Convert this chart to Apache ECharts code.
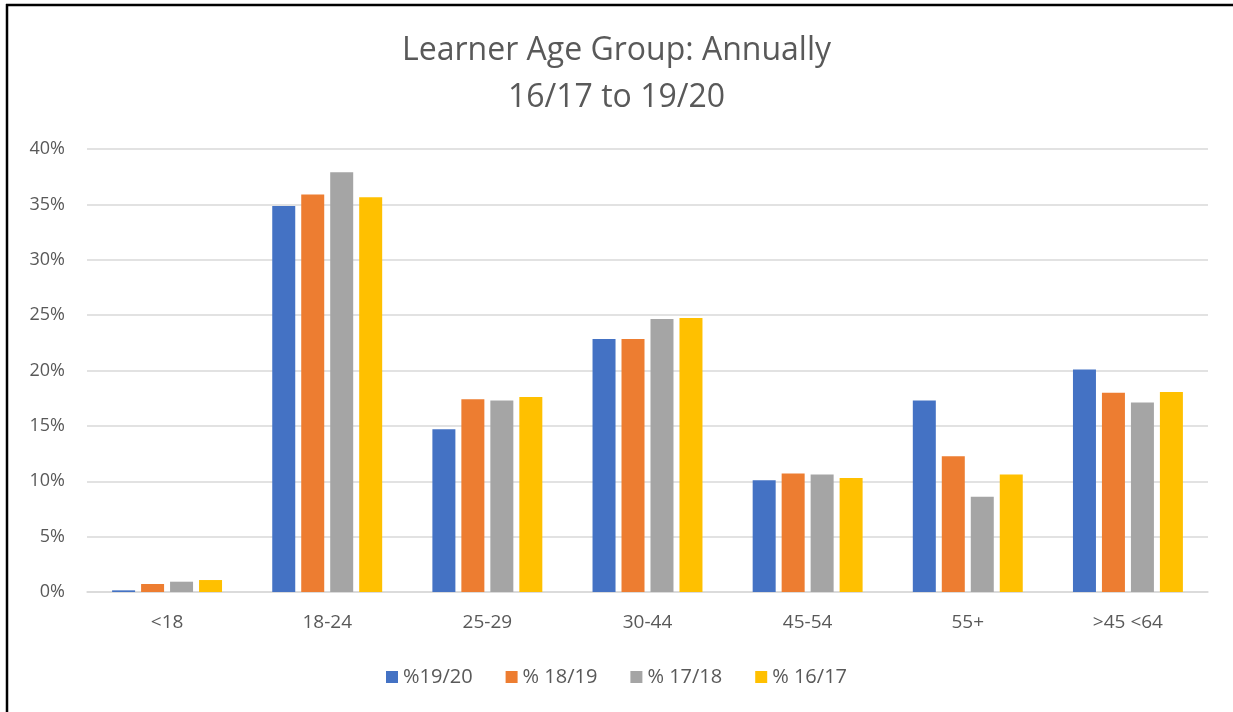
<!DOCTYPE html>
<html>
<head>
<meta charset="utf-8">
<script src="https://cdn.jsdelivr.net/npm/echarts@6/dist/echarts.min.js"></script>
<style>html,body{margin:0;padding:0;background:#fff;overflow:hidden}#c{width:1233px;height:712px}</style>
</head>
<body>
<div id="c"></div>
<script>
const categories = ['<18', '18-24', '25-29', '30-44', '45-54', '55+', '>45 <64'];
const seriesNames = ['%19/20', '% 18/19', '% 17/18', '% 16/17'];
const s1920 = [0.15, 34.85, 14.7, 22.85, 10.1, 17.3, 20.1];
const s1819 = [0.72, 35.9, 17.4, 22.85, 10.7, 12.25, 18.0];
const s1718 = [0.93, 37.9, 17.3, 24.65, 10.6, 8.6, 17.1];
const s1617 = [1.08, 35.65, 17.6, 24.75, 10.3, 10.6, 18.05];
const colors = ['#4472C4', '#ED7D31', '#A5A5A5', '#FFC000'];
const allValues = [s1920, s1819, s1718, s1617];

const chart = echarts.init(document.getElementById('c'));
const font = 'Open Sans, Lato, sans-serif';
chart.setOption({
  animation: false,
  backgroundColor: '#fff',
  title: {
    text: 'Learner Age Group: Annually\n16/17 to 19/20',
    left: 'center',
    top: 22,
    textStyle: { fontFamily: font, fontSize: 32, fontWeight: 'normal', color: '#595959', lineHeight: 47 }
  },
  graphic: [
    { type: 'line', shape: { x1: 7, y1: 4, x2: 7, y2: 760 },
      style: { stroke: '#000', lineWidth: 2.5 }, silent: true, z: 100 },
    { type: 'line', shape: { x1: 6, y1: 5, x2: 1300, y2: 5 },
      style: { stroke: '#000', lineWidth: 2.5 }, silent: true, z: 100 }
  ],
  legend: {
    bottom: 20, left: 'center', itemWidth: 12, itemHeight: 12, itemGap: 33,
    icon: 'rect',
    textStyle: { fontFamily: font, fontSize: 20, color: '#595959' },
    data: seriesNames
  },
  grid: { left: 87, right: 25, top: 149, bottom: 120, containLabel: false },
  xAxis: {
    type: 'category', data: categories,
    axisLine: { lineStyle: { color: '#D9D9D9', width: 1.5 } },
    axisTick: { show: false },
    axisLabel: { fontFamily: font, fontSize: 19, color: '#595959', margin: 21 }
  },
  yAxis: {
    type: 'value', min: 0, max: 40, interval: 5,
    axisLine: { show: false }, axisTick: { show: false },
    splitLine: { lineStyle: { color: '#D9D9D9', width: 1.5 } },
    axisLabel: { fontFamily: font, fontSize: 18, color: '#595959', margin: 22, formatter: '{value}%' }
  },
  series: seriesNames.map((n, i) => ({
    name: n, type: 'bar', data: allValues[i], barWidth: 23, barGap: '26%',
    itemStyle: { color: colors[i] }
  }))
});
</script>
</body>
</html>
